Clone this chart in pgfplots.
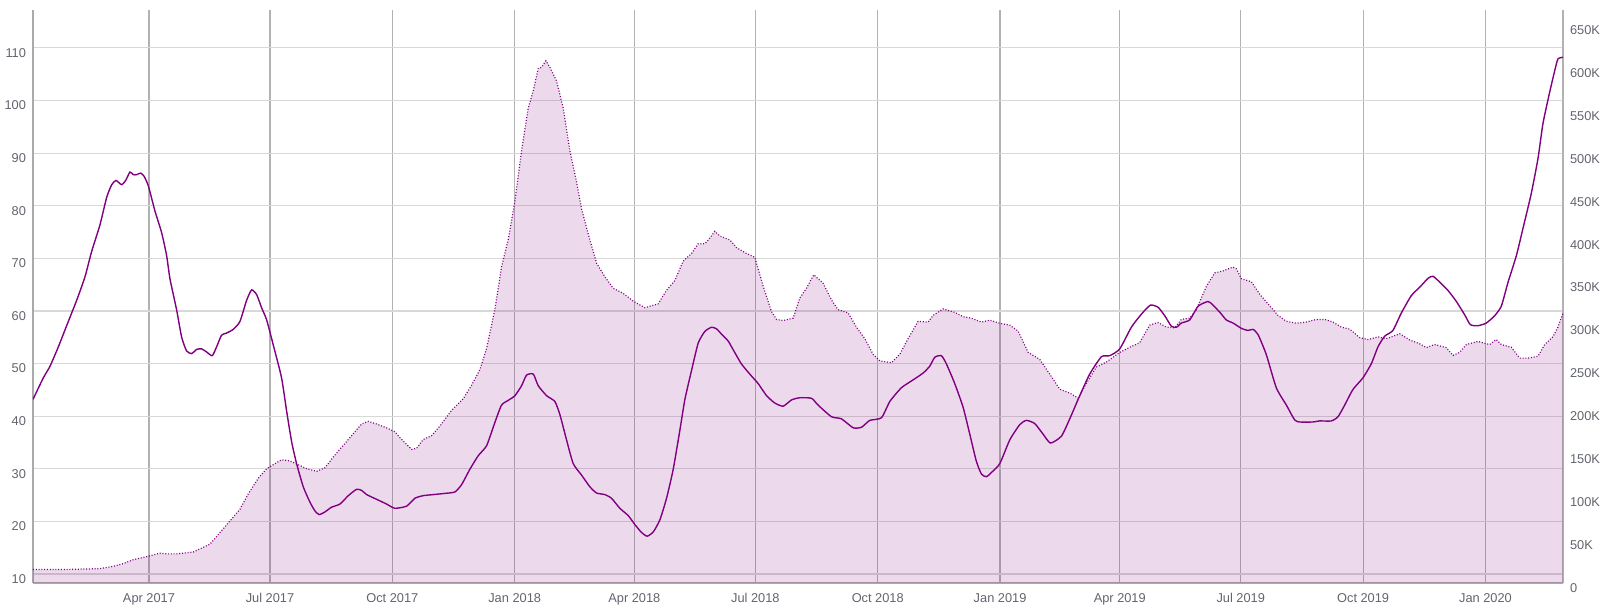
\documentclass[border=0pt]{standalone}
\usepackage{fontspec}
\setmainfont{Liberation Sans}
\usepackage{pgfplots}
\usepackage{pgfplotstable}
\pgfplotsset{compat=1.18}
\definecolor{lc}{RGB}{128,0,128}
\definecolor{tickc}{RGB}{98,100,110}
\definecolor{hgrid}{RGB}{216,216,216}
\definecolor{vgrid}{RGB}{178,178,178}
\definecolor{axc}{RGB}{170,170,170}

\pgfplotstableread{
d v
2.8 43.2
10.6 47.3
15.6 49.5
21.9 53.2
28.1 57.2
35.6 62.0
41.9 66.5
46.9 71.3
53.2 76.4
58.2 81.6
62.0 84.0
65.2 84.8
69.5 84.0
72.7 84.9
75.7 86.4
78.2 85.9
80.7 85.9
83.8 86.2
86.3 85.6
89.5 83.8
94.5 79.0
99.5 74.9
103.3 70.5
105.8 66.1
110.8 60.2
114.6 55.0
118.3 52.4
122.1 51.9
125.9 52.7
129.6 52.8
133.4 52.2
137.6 51.5
140.9 53.2
144.6 55.4
148.4 55.8
153.4 56.5
158.4 58.0
163.4 62.0
167.2 64.0
171.0 63.1
174.7 60.6
178.5 58.3
183.5 53.5
189.7 47.3
193.5 41.0
197.3 35.1
201.0 31.0
206.0 26.6
211.0 23.7
214.8 22.0
218.0 21.3
222.3 21.8
227.3 22.7
233.6 23.3
239.9 24.9
246.1 26.1
249.9 25.9
253.7 25.1
261.2 24.2
268.7 23.3
274.9 22.5
283.7 22.9
290.0 24.4
296.2 24.9
303.8 25.1
311.3 25.3
320.0 25.6
325.1 27.0
331.3 29.9
337.6 32.5
343.9 34.4
350.1 38.8
355.1 42.1
360.1 43.0
365.2 43.9
370.2 45.8
373.9 47.8
379.0 48.0
382.7 45.8
389.0 43.9
395.2 42.8
399.0 40.3
404.0 35.5
409.0 31.0
415.3 28.8
421.5 26.6
426.6 25.4
432.8 25.1
437.8 24.4
444.1 22.5
450.4 21.1
455.4 19.4
460.4 17.9
464.6 17.2
469.2 18.0
474.2 20.3
479.2 24.4
484.2 29.9
489.2 37.3
493.0 43.2
498.0 48.7
503.0 53.9
508.0 56.1
513.0 56.9
516.8 56.6
520.5 55.6
525.5 54.3
530.5 52.1
535.6 49.9
541.8 48.0
548.1 46.2
554.4 43.9
560.6 42.5
566.9 41.9
573.2 43.1
579.4 43.5
588.2 43.4
593.2 42.1
603.2 39.9
610.7 39.5
619.5 37.8
625.8 37.9
632.0 39.2
640.8 39.7
647.1 42.8
655.8 45.4
664.6 46.9
672.1 48.2
677.1 49.5
680.9 51.2
685.9 51.5
689.7 49.9
695.9 46.2
702.2 41.7
707.2 36.6
712.2 31.4
716.0 29.0
719.7 28.5
723.5 29.3
729.8 31.0
737.3 35.5
744.8 38.4
749.8 39.2
756.1 38.6
762.3 36.6
767.9 34.9
776.1 36.2
782.4 39.5
789.9 43.9
797.4 48.0
806.2 51.3
812.5 51.5
820.0 52.8
828.7 56.9
836.3 59.4
843.0 61.1
848.8 60.7
853.8 59.1
858.8 57.1
862.6 56.9
866.3 57.7
872.6 58.3
878.9 60.9
886.4 61.8
890.1 61.1
895.1 59.8
900.1 58.3
905.2 57.7
911.4 56.7
916.4 56.3
920.2 56.5
924.0 55.5
930.2 51.7
937.7 45.4
945.3 42.1
951.5 39.3
955.3 38.9
965.3 38.9
970.3 39.1
979.1 39.1
984.1 39.9
989.1 42.1
995.4 45.1
1002.9 47.3
1009.2 50.0
1014.2 53.2
1019.2 55.2
1025.4 56.3
1031.7 59.6
1039.2 62.9
1045.5 64.5
1051.8 66.2
1055.5 66.6
1060.5 65.5
1066.8 63.9
1073.1 61.8
1079.3 59.3
1083.6 57.4
1089.3 57.2
1095.6 57.7
1101.9 59.1
1106.9 60.9
1111.9 65.4
1118.2 70.5
1123.2 75.7
1129.4 82.3
1134.5 89.0
1138.2 95.6
1143.2 101.5
1147.0 105.6
1149.5 107.9
1153.3 108.2
}\linedata

\pgfplotstableread{
d k
2.8 15.8
28.1 15.8
53.2 16.7
63.2 19.4
70.7 22.6
78.2 27.1
88.3 30.7
98.3 34.8
103.3 33.9
110.8 33.9
123.3 36.1
135.9 45.2
143.4 58.7
150.9 72.3
158.4 85.8
164.7 103.9
172.2 122.0
178.5 133.2
183.5 137.8
189.7 143.6
196.0 142.3
202.3 137.8
208.5 133.2
216.1 130.1
222.3 134.1
228.6 146.8
236.1 160.3
243.6 173.9
249.9 185.2
254.9 188.3
261.2 185.2
268.7 180.7
274.9 176.2
278.7 169.4
287.5 155.8
291.2 156.7
296.2 167.1
302.5 171.6
308.8 182.9
317.5 201.0
326.3 214.5
332.6 230.4
338.8 248.4
343.9 273.3
350.1 318.4
355.1 368.1
360.1 399.7
365.2 444.9
370.2 503.6
375.2 553.3
379.0 573.6
382.7 599.4
385.2 600.7
388.5 608.4
391.5 600.7
396.5 584.9
401.5 553.3
406.5 503.6
411.5 467.5
415.3 435.9
420.3 406.5
426.6 372.6
432.8 356.8
439.1 343.3
446.6 337.4
454.1 328.4
462.9 320.7
472.9 325.2
479.2 341.0
485.4 352.3
491.7 374.9
498.0 383.9
503.0 395.2
508.0 395.2
511.8 402.0
515.5 409.7
519.3 404.2
526.8 399.7
531.8 390.7
539.3 383.9
545.6 379.4
551.9 345.5
558.1 316.2
561.9 307.1
566.9 305.8
574.4 308.5
579.4 332.0
584.4 343.3
589.9 359.1
597.0 349.1
603.2 329.7
608.2 318.4
615.7 314.8
622.0 298.1
628.3 284.6
634.5 266.5
639.5 258.8
648.3 256.6
654.6 266.5
660.8 284.6
668.4 304.9
675.9 304.0
679.6 311.7
687.2 319.3
695.9 315.3
702.2 310.3
708.5 308.5
716.0 304.0
722.2 306.2
729.8 302.6
737.3 300.4
743.5 293.6
751.1 268.7
759.8 260.6
766.1 246.2
774.9 225.8
782.4 221.3
788.7 215.4
794.9 232.6
802.4 251.6
810.0 257.5
820.0 268.7
827.5 274.6
835.0 280.0
842.5 300.4
848.8 303.5
855.1 298.1
861.3 297.2
866.3 307.1
872.6 308.5
877.6 318.4
880.1 327.5
885.1 345.5
891.4 361.3
897.6 363.6
905.2 368.1
907.7 365.9
911.4 354.6
919.0 350.9
925.2 336.5
932.7 322.9
939.0 311.7
945.3 304.9
952.8 302.6
960.3 304.0
967.8 307.1
974.1 307.1
980.3 304.0
986.6 298.1
992.9 295.8
1000.4 285.9
1006.7 283.6
1014.2 286.8
1020.4 284.6
1030.5 290.4
1038.0 283.2
1045.5 278.7
1050.5 274.2
1056.8 277.8
1065.5 274.2
1070.6 265.1
1075.6 268.7
1080.6 277.8
1089.4 281.4
1098.1 277.8
1103.1 283.6
1106.9 277.8
1114.4 274.6
1120.7 262.0
1127.0 262.0
1134.5 264.2
1139.5 277.8
1145.7 286.8
1149.5 298.1
1153.3 314.8
}\areadata

\begin{document}
\begin{tikzpicture}
\useasboundingbox (-16.5pt,-12.5pt) rectangle (783.5pt,291.5pt);
\pgfplotsset{
  common/.style={at={(0,0)}, anchor=south west, scale only axis,
    width=765pt, height=286.5pt, xmin=2.8, xmax=1153.3,
    major tick length=0pt,
    tick label style={font=\fontsize{6.4}{7.5}\selectfont, text=tickc},
    /pgf/number format/assume math mode=true},
}
% grid and left axis
\begin{axis}[common,
  ymin=8.3, ymax=117.2,
  ytick={10,20,30,40,50,60,70,80,90,100,110},
  yticklabels={10,20,30,40,50,60,70,80,90,100,110},
  xtick={90,181,273,365,455,546,638,730,820,911,1003,1095},
  xticklabels={Apr 2017,Jul 2017,Oct 2017,Jan 2018,Apr 2018,Jul 2018,Oct 2018,Jan 2019,Apr 2019,Jul 2019,Oct 2019,Jan 2020},
  xmajorgrids, ymajorgrids,
  major x grid style={draw=vgrid, line width=0.6pt},
  major y grid style={draw=hgrid, line width=0.6pt},
  axis x line*=bottom, axis y line*=left,
  axis line style={-, draw=axc, line width=0.9pt},
  yticklabel style={yshift=-2.5pt},
  xticklabel style={anchor=base, yshift=-9.8pt},
]
\addplot[draw=none, forget plot] coordinates {(100,50)};
\end{axis}
% area on the right axis
\begin{axis}[common,
  ymin=0, ymax=667.6,
  axis x line=none, axis y line*=right,
  axis line style={-, draw=vgrid, line width=0.7pt},
  ytick={0,50,100,150,200,250,300,350,400,450,500,550,600,650},
  yticklabels={0,50K,100K,150K,200K,250K,300K,350K,400K,450K,500K,550K,600K,650K},
  yticklabel style={yshift=-2.5pt, anchor=west, xshift=0pt},
]
\addplot[draw=none, fill=lc, fill opacity=0.15] table[x=d, y=k] {\areadata} \closedcycle;
\addplot[lc, line width=0.6pt, dash pattern=on 0.5pt off 0.9pt] table[x=d, y=k] {\areadata};
\end{axis}
% line on the left axis
\begin{axis}[common, ymin=8.3, ymax=117.2, hide axis]
\addplot[lc, line width=0.7pt, smooth, tension=0.35] table[x=d, y=v] {\linedata};
\end{axis}
\end{tikzpicture}
\end{document}
